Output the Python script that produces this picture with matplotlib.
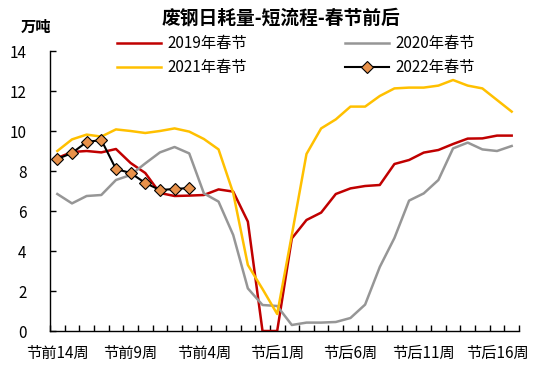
import matplotlib
matplotlib.use("Agg")
from matplotlib import pyplot as plt
from matplotlib.ticker import FixedLocator

plt.rcParams['font.family'] = ['Noto Sans CJK SC', 'DejaVu Sans']

# 32 weeks around the Spring Festival (节前14周 ... 节后17周)
weeks = list(range(32))
tick_idx = [0, 5, 10, 15, 20, 25, 30]
tick_labels = ['节前14周', '节前9周', '节前4周', '节后1周', '节后6周', '节后11周', '节后16周']

y2019 = [8.65, 8.95, 9.0, 8.93, 9.1, 8.4, 7.9, 6.9, 6.75, 6.77, 6.8, 7.08, 6.97, 5.47, 0, 0,
         4.63, 5.55, 5.92, 6.85, 7.13, 7.25, 7.3, 8.35, 8.55, 8.92, 9.05, 9.35, 9.62, 9.63, 9.77, 9.77]
y2020 = [6.85, 6.38, 6.75, 6.8, 7.55, 7.8, 8.38, 8.93, 9.2, 8.88, 6.88, 6.47, 4.8, 2.13, 1.3, 1.25,
         0.3, 0.42, 0.42, 0.45, 0.65, 1.32, 3.2, 4.65, 6.52, 6.88, 7.55, 9.13, 9.42, 9.08, 9.0, 9.25]
y2021 = [9.0, 9.58, 9.82, 9.72, 10.08, 10.0, 9.9, 10.0, 10.13, 9.97, 9.6, 9.08, 6.9, 3.3, 2.1, 0.85,
         4.8, 8.85, 10.13, 10.58, 11.22, 11.22, 11.75, 12.13, 12.17, 12.17, 12.27, 12.55, 12.27, 12.13, 11.55, 10.97]
y2022 = [8.6, 8.9, 9.45, 9.55, 8.1, 7.9, 7.4, 7.05, 7.1, 7.15]

fig = plt.figure(figsize=(5.5, 3.69), dpi=100)
ax = fig.add_axes([50 / 550, 38 / 369, 469 / 550, 280 / 369])

l19, = ax.plot(weeks, y2019, '-', color='#C00000', lw=1.8, label='2019年春节')
l20, = ax.plot(weeks, y2020, '-', color='#969696', lw=1.8, label='2020年春节')
l21, = ax.plot(weeks, y2021, '-', color='#FFC000', lw=1.8, label='2021年春节')
l22, = ax.plot(weeks[:len(y2022)], y2022, '-', color='black', lw=1.5, marker='D', markersize=6,
               markerfacecolor='#E8914A', markeredgecolor='black', markeredgewidth=0.8,
               label='2022年春节')

ax.set_xlim(-0.5, 31.5)
ax.set_ylim(0, 14)
ax.set_yticks(range(0, 15, 2))

# tick marks between categories, labels every 5th week
ax.xaxis.set_major_locator(FixedLocator([i - 0.5 for i in range(33)]))
ax.xaxis.set_major_formatter(plt.NullFormatter())
ax.xaxis.set_minor_locator(FixedLocator(tick_idx))
ax.set_xticklabels(tick_labels, minor=True)
ax.tick_params(axis='x', which='major', direction='in', length=4, width=1)
ax.tick_params(axis='x', which='minor', length=0, pad=10, labelsize=11)
ax.tick_params(axis='y', direction='in', length=4, width=1, pad=17, labelsize=11)

for s in ['top', 'right']:
    ax.spines[s].set_visible(False)
for s in ['left', 'bottom']:
    ax.spines[s].set_linewidth(1)
    ax.spines[s].set_color('black')

fig.text(0.51, 1 - 18 / 369, '废钢日耗量-短流程-春节前后', ha='center', va='center',
         fontsize=13.5, fontweight='bold')
fig.text(36 / 550, 1 - 27 / 369, '万吨', ha='center', va='center', fontsize=11, fontweight='bold')

# legend fills column-wise, so order handles to get 2019 | 2020 on the first row
ax.legend([l19, l21, l20, l22], ['2019年春节', '2021年春节', '2020年春节', '2022年春节'],
          loc='upper left', bbox_to_anchor=(117 / 550, 1 - 35 / 369), bbox_transform=fig.transFigure,
          ncol=2, frameon=False, fontsize=11, handlelength=2.9, columnspacing=6.4,
          labelspacing=0.45, borderpad=0, borderaxespad=0, handletextpad=0.4)

fig.savefig('out.png', dpi=100)
